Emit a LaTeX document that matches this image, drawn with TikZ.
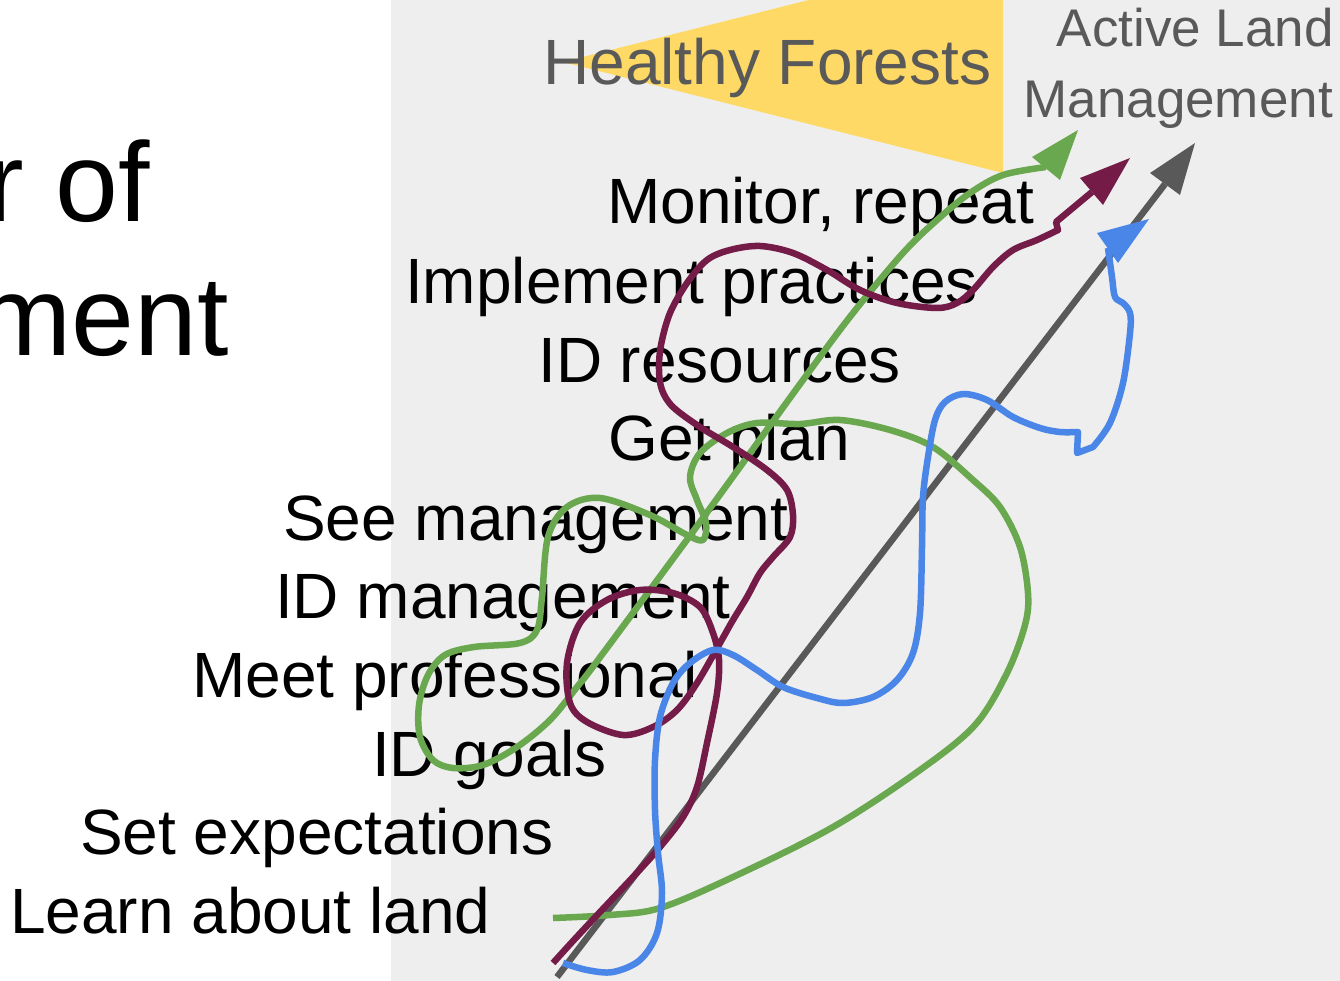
\documentclass[tikz,border=0pt]{standalone}
\usepackage{fontspec}
\setmainfont{Liberation Sans}
\definecolor{bggray}{HTML}{EEEEEE}
\definecolor{dgray}{HTML}{595959}
\definecolor{fgreen}{HTML}{6AA84F}
\definecolor{maroon}{HTML}{741B47}
\definecolor{fblue}{HTML}{4A86E8}
\definecolor{fyellow}{HTML}{FFD966}
\tikzset{
  steptext/.style={font=\fontsize{64}{76}\selectfont, inner sep=0pt, anchor=base west, text=black},
  hdrtext/.style={font=\fontsize{53}{64}\selectfont, inner sep=0pt, anchor=base east, text=dgray},
  titletext/.style={font=\fontsize{113}{135}\selectfont, inner sep=0pt, anchor=base east, text=black},
  curve/.style={line width=6.5pt, line join=round},
}
\begin{document}
\begin{tikzpicture}[x=1pt,y=-1pt]
\useasboundingbox (0,0) rectangle (1340,981);
\clip (0,0) rectangle (1340,981);
% background panel
\fill[bggray] (391,0) rectangle (1340,981);
% funnel
\fill[fyellow] (563,62) -- (1003,-49) -- (1003,173) -- cycle;
% title fragments
\node[titletext] (t1) at (150,222) {r of};
\node[titletext] (t2) at (229,355) {ment};
% headers
\node[steptext, text=dgray] (hf) at (543,85) {Healthy Forests};
\node[hdrtext] (al1) at (1334,47) {Active Land};
\node[hdrtext] (al2) at (1333,118) {Management};
% steps
\node[steptext] (s10) at (607,224) {Monitor, repeat};
\node[steptext] (s9) at (405,304) {Implement practices};
\node[steptext] (s8) at (538,382) {ID resources};
\node[steptext] (s7) at (608,460) {Get plan};
\node[steptext] (s6) at (283,540) {See management};
\node[steptext] (s5) at (275,618) {ID management};
\node[steptext] (s4) at (192,697) {Meet professional};
\node[steptext] (s3) at (372,776) {ID goals};
\node[steptext] (s2) at (80,854) {Set expectations};
\node[steptext] (s1) at (10,933) {Learn about land};
% gray straight arrow
\coordinate (gs) at (557,977);
\coordinate (ge) at (1165,184);
\draw[curve, dgray] (gs) -- (ge);
\fill[dgray] (1195,143) -- (1150,173) -- (1180,195) -- cycle;
% green curve
\draw[curve, fgreen] plot[smooth, tension=0.55] coordinates {
 (553,918) (610,915) (660,908) (733,877) (833,827) (920,770) (975,725) (1007,673)
 (1025,625) (1028,593) (1020,547) (1000,507) (973,480) (933,447) (890,430) (840,420)
 (800,424) (757,423) (727,433) (700,453) (690,477) (697,500) (706,523) (703,540)
 (687,535) (650,515) (600,498) (567,507) (548,537) (542,597) (537,630) (520,643)
 (474,647) (445,655) (428,675) (419,705) (420,737) (433,760) (453,768) (483,765)
 (517,747) (550,720) (577,687) (598,660) (700,522) (803,380) (853,313) (903,253)
 (937,220) (970,193) (1003,175) (1046,167)};
\fill[fgreen] (1078,130) -- (1032,157) -- (1060,180) -- cycle;
% maroon curve
\draw[curve, maroon] plot[smooth, tension=0.55] coordinates {
 (553,963) (573,941) (600,912) (633,877) (660,847) (683,817) (697,787) (707,743)
 (717,693) (719,660) (713,633) (700,607) (673,593) (640,590) (607,600) (580,623)
 (567,663) (570,703) (587,722) (623,735) (653,727) (677,710) (697,683) (720,643)
 (733,620) (747,597) (760,573) (773,557) (790,537) (793,515) (787,490) (767,470)
 (733,447) (700,427) (673,407) (662,390) (659,370) (661,345) (670,313) (687,283)
 (707,260) (730,250) (760,246) (793,253) (827,270) (860,290) (897,303) (937,308)
 (957,303) (973,290) (993,267) (1013,250) (1037,240) (1058,230)}
 -- (1056,222) -- (1092,192);
\fill[maroon] (1130,158) -- (1080,178) -- (1103,205) -- cycle;
% blue curve
\draw[curve, fblue] plot[smooth, tension=0.55] coordinates {
 (563,963) (587,970) (613,972) (640,960) (657,933) (662,893) (658,853) (655,810)
 (655,760) (660,717) (673,683) (690,663) (713,650) (733,655) (757,670) (783,687)
 (817,698) (843,703) (873,697) (897,680) (913,653) (920,613) (922,547) (923,497)
 (928,457) (935,420) (945,402) (963,394) (987,400) (1013,417) (1040,428) (1060,432)
 (1078,432)}
 -- (1077,453) -- plot[smooth, tension=0.55] coordinates {
 (1093,447) (1110,423) (1123,383) (1130,333) (1130,313) (1123,303) (1115,297)
 (1112,277) (1108,248)};
\fill[fblue] (1149,219) -- (1097,233) -- (1118,263) -- cycle;
\end{tikzpicture}
\end{document}
